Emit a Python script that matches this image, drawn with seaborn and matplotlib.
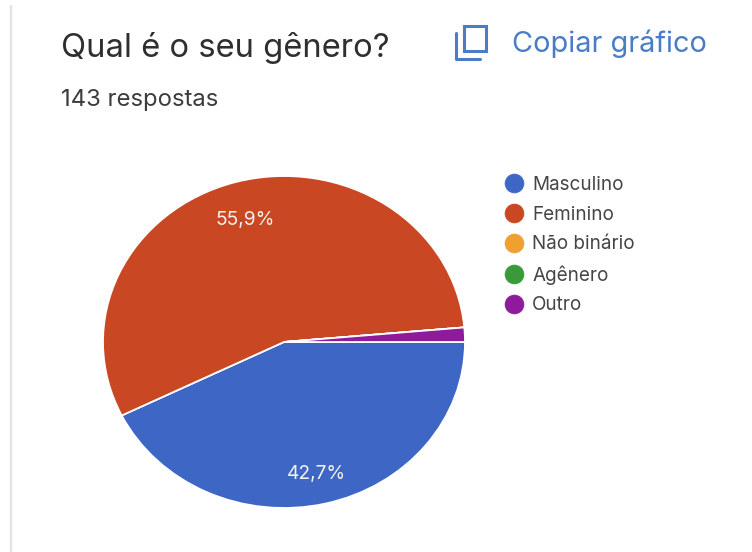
import matplotlib
matplotlib.use("Agg")
import matplotlib.pyplot as plt
from matplotlib.lines import Line2D
from matplotlib.patches import Rectangle
import seaborn as sns

categories = ["Masculino", "Feminino", "Não binário", "Agênero", "Outro"]
shares = [42.7, 55.9, 0.0, 0.0, 1.4]
colors = ["#3e66c4", "#c94823", "#f0a030", "#3a9a3a", "#8e1a9c"]
title_text = "Qual é o seu gênero?"
subtitle_text = "143 respostas"
action_text = "Copiar gráfico"

sns.set_theme(style="white", palette=sns.color_palette(colors))
plt.rcParams["font.family"] = ["Inter", "DejaVu Sans"]

W, H = 752, 552
fig = plt.figure(figsize=(W / 100, H / 100), dpi=100, facecolor="white")


def px(x, y):
    """Convert top-left pixel coordinates to figure fractions."""
    return x / W, 1 - y / H


# The pie is stretched slightly wider than tall
cx, cy, rx, ry = 284, 342, 181, 166
ax = fig.add_axes([(cx - rx) / W, 1 - (cy + ry) / H, 2 * rx / W, 2 * ry / H])


def pct_label(value):
    return f"{value:.1f}%".replace(".", ",") if value >= 5 else ""


wedges, _, autotexts = ax.pie(
    shares,
    colors=colors,
    startangle=0,
    counterclock=False,
    autopct=pct_label,
    pctdistance=0.79,
    radius=1,
    wedgeprops={"edgecolor": "white", "linewidth": 1.3},
    textprops={"color": "#f4f1ee", "fontsize": 13.8},
)
# Nudge the percentage labels down a little inside their wedges
for label in autotexts:
    label.set_y(label.get_position()[1] - 0.026)
ax.set_aspect("auto")
ax.set_xlim(-1, 1)
ax.set_ylim(-1, 1)
ax.axis("off")

# Legend with round markers
handles = [
    Line2D([], [], linestyle="none", marker="o", markersize=13.6,
           markerfacecolor=c, markeredgecolor=c, markeredgewidth=0.5, label=n)
    for c, n in zip(colors, categories)
]
fig.legend(
    handles=handles,
    loc="upper left",
    bbox_to_anchor=px(503, 176),
    bbox_transform=fig.transFigure,
    frameon=False,
    fontsize=13.6,
    labelcolor="#454545",
    handletextpad=0.40,
    handlelength=1.15,
    labelspacing=0.62,
    borderpad=0,
    borderaxespad=0,
)

# Header texts
fig.text(*px(61, 48), title_text, fontsize=23.6, color="#2f2f2f", va="center", ha="left")
fig.text(*px(61, 100), subtitle_text, fontsize=17.2, color="#3c3c3c", va="center", ha="left")
fig.text(*px(512, 44), action_text, fontsize=20.8, color="#4b7cc6", va="center", ha="left")

# Copy icon: a square with an L-shaped shadow
icon = "#4b7cc6"
x0, y1 = px(464, 51)
x1, y0 = px(486, 26)
fig.add_artist(Rectangle((x0, y1), x1 - x0, y0 - y1, transform=fig.transFigure,
                         fill=False, edgecolor=icon, linewidth=2.2))
fig.add_artist(Line2D([px(456, 0)[0], px(456, 0)[0], px(480, 0)[0]],
                      [px(0, 33)[1], px(0, 59)[1], px(0, 59)[1]],
                      transform=fig.transFigure, color=icon, linewidth=2.2,
                      solid_joinstyle="round", solid_capstyle="round"))

# Card edge along the left side
fig.add_artist(Line2D([px(10.5, 0)[0]] * 2, [px(0, 6)[1], 0],
                      transform=fig.transFigure, color="#e2e2e2", linewidth=1.6))

fig.savefig("out.png", dpi=100, facecolor="white")
